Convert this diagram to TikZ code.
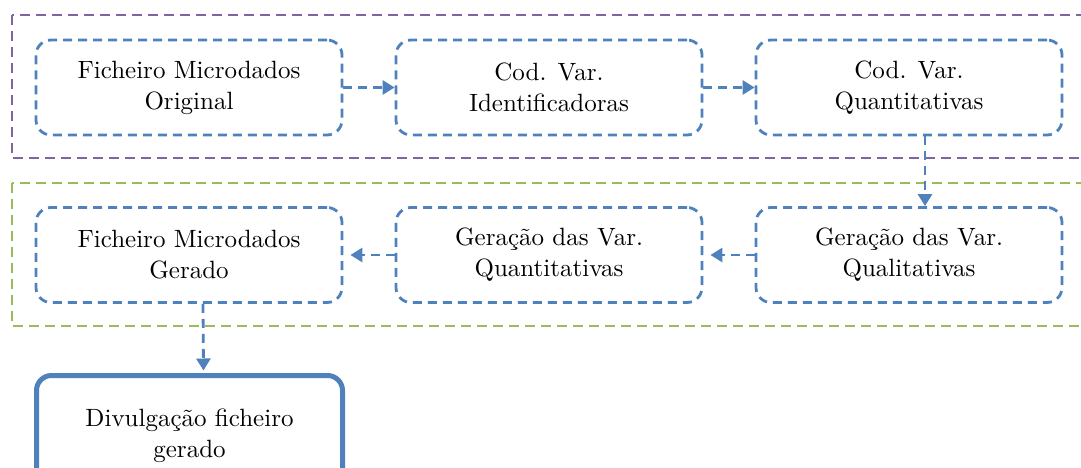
\documentclass[tikz,border=0pt]{standalone}
\usepackage{fontspec}
\setmainfont{lmroman10-regular.otf}
\usetikzlibrary{arrows.meta,calc}
\definecolor{obl}{HTML}{4F81BD}
\definecolor{opu}{HTML}{8064A2}
\definecolor{ogr}{HTML}{9BBB59}
\tikzset{
  stepbox/.style={draw=obl, line width=2.8pt, dash pattern=on 9pt off 6pt, rounded corners=15pt,
    minimum width=306pt, minimum height=95pt, align=center, inner sep=0pt,
    font=\fontsize{25}{31}\selectfont},
  finalbox/.style={draw=obl, line width=5pt, rounded corners=15pt,
    minimum width=306pt, minimum height=120pt, align=center, inner sep=0pt,
    font=\fontsize{25}{31}\selectfont},
  flow/.style={draw=obl, line width=2.8pt, dash pattern=on 9pt off 6pt,
    -{Triangle[width=14pt,length=12pt]}},
  group/.style={line width=2.8pt, dash pattern=on 10pt off 6pt}
}
\begin{document}
\begin{tikzpicture}[x=1pt,y=-1pt]
\useasboundingbox (0,0) rectangle (1081,468);
\clip (0,0) rectangle (1081,468);
\draw[group, draw=opu] (12,15) rectangle (1110,158);
\draw[group, draw=ogr] (12,183) rectangle (1110,326);
\node[stepbox] (n1) at (189,87.5) {Ficheiro Microdados\\Original};
\node[stepbox] (n2) at (549,87.5) {Cod. Var.\\Identificadoras};
\node[stepbox] (n3) at (909,87.5) {Cod. Var.\\Quantitativas};
\node[stepbox] (n6) at (909,255) {Geração das Var.\\Qualitativas};
\node[stepbox] (n5) at (549,255) {Geração das Var.\\Quantitativas};
\node[stepbox] (n4) at (189,255) {Ficheiro Microdados\\Gerado};
\node[finalbox, anchor=north] (n7) at (189.5,373) {Divulgação ficheiro\\gerado};
\draw[flow] (n1.east) -- (n2.west);
\draw[flow] (n2.east) -- (n3.west);
\draw[flow] ($(n3.south)+(16,0)$) -- ($(n6.north)+(16,0)$);
\draw[flow, shorten >=7pt] (n6.west) -- (n5.east);
\draw[flow, shorten >=7pt] (n5.west) -- (n4.east);
\draw[flow] ($(n4.south)+(14,0)$) -- ($(n7.north)+(14,-2.5)$);
\end{tikzpicture}
\end{document}
